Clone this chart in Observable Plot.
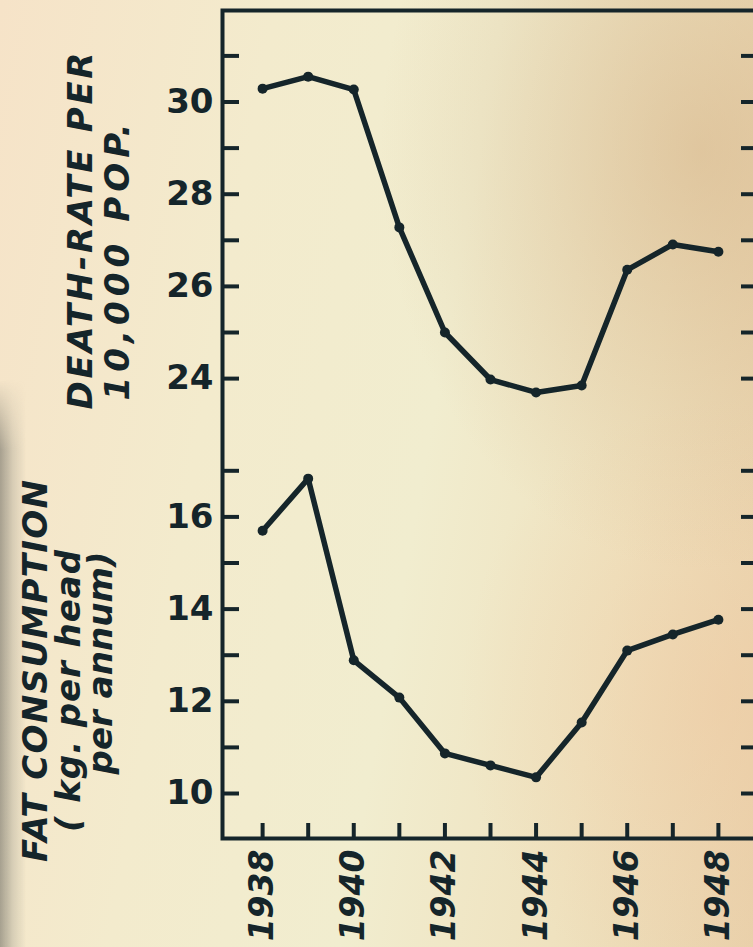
<!DOCTYPE html>
<html>
<head>
<meta charset="utf-8">
<script src="https://cdn.jsdelivr.net/npm/d3@7"></script>
<script src="https://cdn.jsdelivr.net/npm/@observablehq/plot@0.6"></script>
<style>
html, body { margin: 0; padding: 0; width: 753px; height: 947px; overflow: hidden; }
body {
  background:
    radial-gradient(ellipse 320px 420px at 700px 150px, rgba(205,165,120,0.45), rgba(205,165,120,0) 100%),
    radial-gradient(ellipse 260px 300px at 720px 700px, rgba(240,200,160,0.45), rgba(240,200,160,0) 100%),
    linear-gradient(100deg, #f6e3c8 0%, #f3ebcd 30%, #f1edcf 55%, #efe2bf 78%, #e9d1ab 100%);
}
#chart { position: relative; width: 753px; height: 947px; }
#shadow { position: absolute; left: 0; top: 380px; width: 34px; height: 567px;
  background: linear-gradient(to right, rgba(125,123,112,0.65) 0px, rgba(150,148,135,0.3) 13px, rgba(150,148,135,0) 26px);
  -webkit-mask-image: linear-gradient(to bottom, rgba(0,0,0,0), #000 70px);
  mask-image: linear-gradient(to bottom, rgba(0,0,0,0), #000 70px); }
#chart svg { position: absolute; left: 0; top: 0; }
</style>
</head>
<body>
<div id="chart"><div id="shadow"></div></div>
<script>
// ---- data ----
const years = [1938, 1939, 1940, 1941, 1942, 1943, 1944, 1945, 1946, 1947, 1948];
const deathRate = [30.29, 30.55, 30.27, 27.28, 25.00, 23.98, 23.70, 23.85, 26.36, 26.91, 26.75];
const fatConsumption = [15.70, 16.83, 12.89, 12.08, 10.87, 10.61, 10.35, 11.54, 13.10, 13.45, 13.77];
const deathTicks = [24, 25, 26, 27, 28, 29, 30, 31];
const deathTickLabels = [24, 26, 28, 30];
const fatTicks = [10, 11, 12, 13, 14, 15, 16, 17];
const fatTickLabels = [10, 12, 14, 16];
const yearTickLabels = [1938, 1940, 1942, 1944, 1946, 1948];

// the two panels share one y scale; death rate is shifted down by a constant
const OFFSET = 5;
const ink = "#15252a";

const W = 768, H = 947, ML = 222, MR = 10, MT = 10, MB = 109;
const frameW = W - ML - MR, frameH = H - MT - MB;
const TICK = 17;

const deathData = years.map((yr, i) => ({year: yr, v: deathRate[i] - OFFSET}));
const fatData = years.map((yr, i) => ({year: yr, v: fatConsumption[i]}));
const allTicks = [...fatTicks, ...deathTicks.map(d => d - OFFSET)];
const labelTicks = [...fatTickLabels, ...deathTickLabels.map(d => d - OFFSET)];
const fmt = v => String(Math.round(v > 18 ? v + OFFSET : v));

const chart = Plot.plot({
  width: W,
  height: H,
  marginLeft: ML,
  marginRight: MR,
  marginTop: MT,
  marginBottom: MB,
  style: {background: "transparent", color: ink, fontFamily: "DejaVu Sans", maxWidth: "none", overflow: "visible"},
  x: {domain: [1937.12, 1948.88]},
  y: {domain: [9.024, 26.985]},
  marks: [
    // inward tick marks on the left, right and bottom edges of the frame
    Plot.tickY(allTicks, {y: d => d, stroke: ink, strokeWidth: 4, insetRight: frameW - TICK}),
    Plot.tickY(allTicks, {y: d => d, stroke: ink, strokeWidth: 4, insetLeft: frameW - TICK}),
    Plot.tickX(years, {x: d => d, stroke: ink, strokeWidth: 4, insetTop: frameH - 15}),
    Plot.axisY(labelTicks, {anchor: "left", tickSize: 0, tickPadding: 9, tickFormat: fmt, fontSize: 34, fontWeight: "bold", fill: ink, label: null}),
    Plot.axisX(yearTickLabels, {anchor: "bottom", tickSize: 0, tickPadding: 11, tickRotate: -90, tickFormat: d => String(d), fontSize: 33, fontWeight: "bold", fontStyle: "italic", fill: ink, label: null}),
    Plot.frame({stroke: ink, strokeWidth: 4}),
    Plot.line(deathData, {x: "year", y: "v", stroke: ink, strokeWidth: 5.5, strokeLinejoin: "round"}),
    Plot.dot(deathData, {x: "year", y: "v", r: 5, fill: ink}),
    Plot.line(fatData, {x: "year", y: "v", stroke: ink, strokeWidth: 5.5, strokeLinejoin: "round"}),
    Plot.dot(fatData, {x: "year", y: "v", r: 5, fill: ink})
  ]
});
document.getElementById("chart").appendChild(chart);

// axis titles (rotated, italic lettering)
const svg = d3.select(chart);
const titles = [
  {t: "DEATH-RATE PER", x: 92, y: 231, len: 357},
  {t: "10,000 POP.", x: 129, y: 262, len: 277},
  {t: "FAT CONSUMPTION", x: 47, y: 671, len: 382},
  {t: "( kg. per head", x: 80, y: 691, len: 282},
  {t: "per annum)", x: 112, y: 663, len: 223}
];
svg.append("g")
  .attr("font-family", "DejaVu Sans")
  .attr("font-weight", "bold")
  .attr("font-style", "italic")
  .attr("font-size", 34)
  .attr("fill", ink)
  .selectAll("text").data(titles).join("text")
  .attr("transform", d => `translate(${d.x},${d.y}) rotate(-90)`)
  .attr("text-anchor", "middle")
  .attr("textLength", d => d.len)
  .attr("lengthAdjust", "spacing")
  .text(d => d.t);
</script>
</body>
</html>
